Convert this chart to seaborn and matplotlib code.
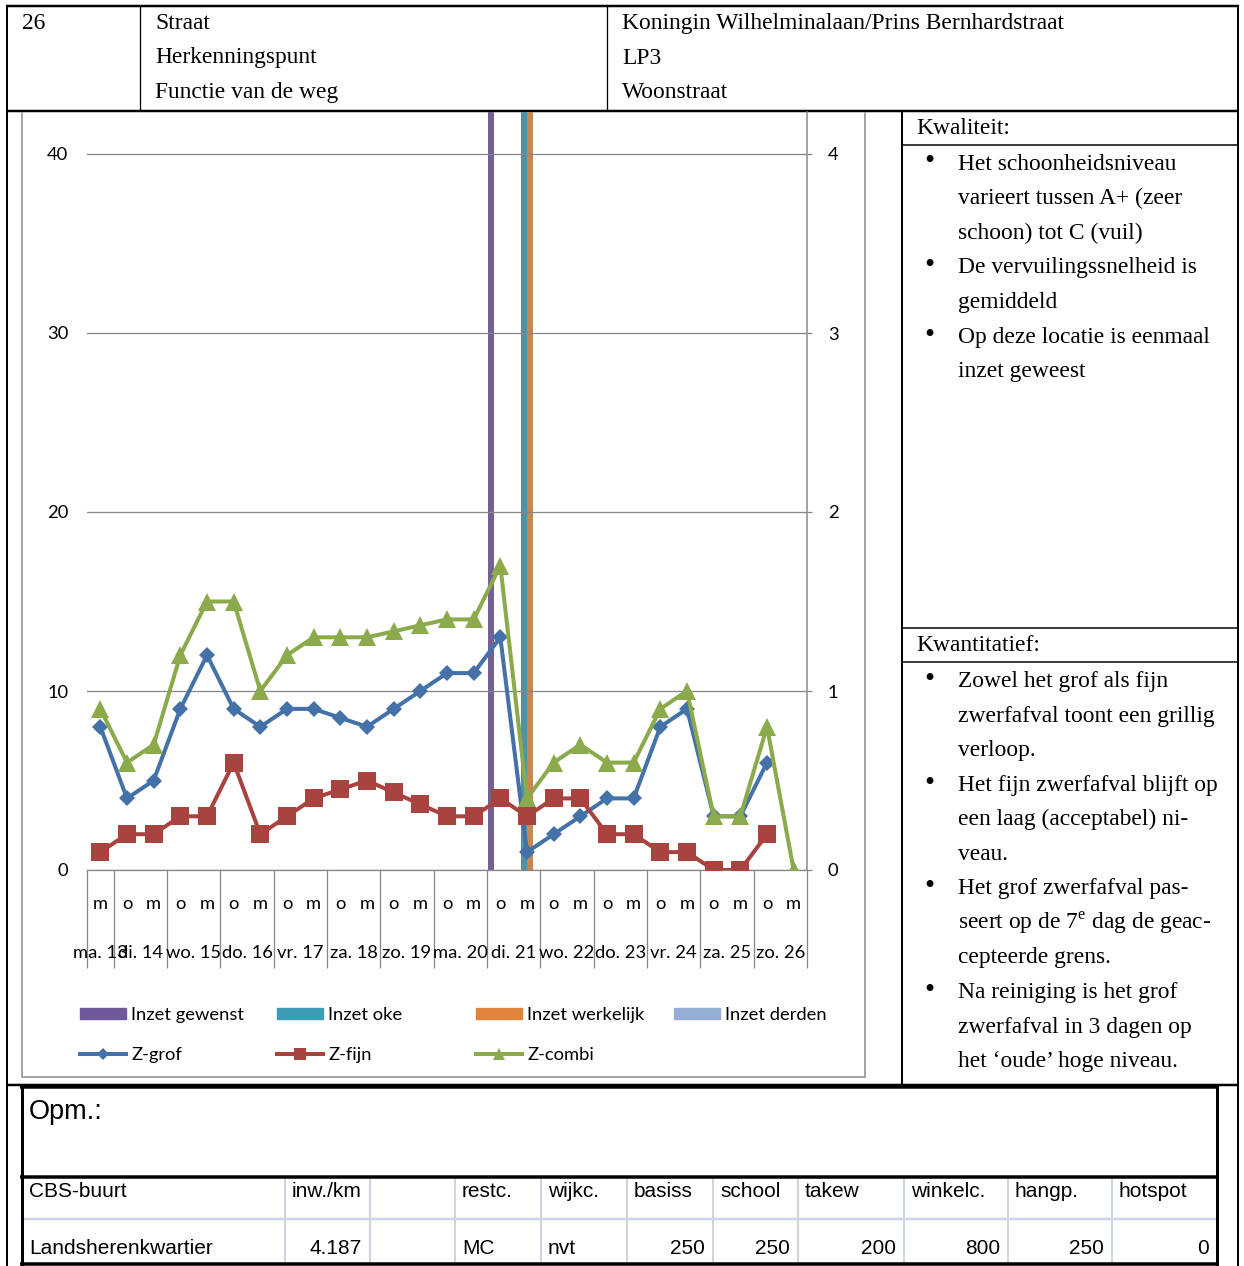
import numpy as np
import pandas as pd
import seaborn as sns
import matplotlib
matplotlib.use("Agg")
import matplotlib.pyplot as plt
from matplotlib.lines import Line2D
from matplotlib.patches import Patch

# ---------------------------------------------------------------- data
day_labels = ["ma. 13", "di. 14", "wo. 15", "do. 16", "vr. 17", "za. 18", "zo. 19",
              "ma. 20", "di. 21", "wo. 22", "do. 23", "vr. 24", "za. 25", "zo. 26"]
part_labels = ["m",
               "o", "m", "o", "m", "o", "m", "o", "m", "o", "m", "o", "m", "o", "m",
               "o", "m", "o", "m", "o", "m", "o", "m", "o", "m", "o", "m"]

z_grof = [8, 4, 5, 9, 12, 9, 8, 9, 9, 8.5, 8, 9, 10, 11, 11, 13,
          1, 2, 3, 4, 4, 8, 9, 3, 3, 6, np.nan]
z_fijn = [1, 2, 2, 3, 3, 6, 2, 3, 4, 4.5, 5, 4.33, 3.67, 3, 3, 4,
          3, 4, 4, 2, 2, 1, 1, 0, 0, 2, np.nan]
z_combi = [9, 6, 7, 12, 15, 15, 10, 12, 13, 13, 13, 13.33, 13.67, 14, 14, 17,
           4, 6, 7, 6, 6, 9, 10, 3, 3, 8, 0]

inzet_gewenst = [0, 0, 0, 0, 0, 0, 0, 0, 0, 0, 0, 0, 0, 0, 0, 5,
                 0, 0, 0, 0, 0, 0, 0, 0, 0, 0, 0]
inzet_oke = [0, 0, 0, 0, 0, 0, 0, 0, 0, 0, 0, 0, 0, 0, 0, 0,
             5, 0, 0, 0, 0, 0, 0, 0, 0, 0, 0]
inzet_werkelijk = [0, 0, 0, 0, 0, 0, 0, 0, 0, 0, 0, 0, 0, 0, 0, 0,
                   5, 0, 0, 0, 0, 0, 0, 0, 0, 0, 0]
inzet_derden = [0, 0, 0, 0, 0, 0, 0, 0, 0, 0, 0, 0, 0, 0, 0, 0,
                0, 0, 0, 0, 0, 0, 0, 0, 0, 0, 0]

left_ticks = [0, 10, 20, 30, 40]
right_ticks = [0, 1, 2, 3, 4]

header_left = ["Straat", "Herkenningspunt", "Functie van de weg"]
header_right = ["Koningin Wilhelminalaan/Prins Bernhardstraat", "LP3", "Woonstraat"]
sheet_number = "26"

kwaliteit_lines = [("•", "Het schoonheidsniveau"), ("", "varieert tussen A+ (zeer"),
                   ("", "schoon) tot C (vuil)"),
                   ("•", "De vervuilingssnelheid is"), ("", "gemiddeld"),
                   ("•", "Op deze locatie is eenmaal"), ("", "inzet geweest")]
kwantitatief_lines = [("•", "Zowel het grof als fijn"), ("", "zwerfafval toont een grillig"),
                      ("", "verloop."),
                      ("•", "Het fijn zwerfafval blijft op"), ("", "een laag (acceptabel) ni-"),
                      ("", "veau."),
                      ("•", "Het grof zwerfafval pas-"),
                      ("", r"seert op de 7$^\mathregular{e}$ dag de geac-"),
                      ("", "cepteerde grens."),
                      ("•", "Na reiniging is het grof"), ("", "zwerfafval in 3 dagen op"),
                      ("", "het \u2018oude\u2019 hoge niveau.")]

table_header = ["CBS-buurt", "inw./km", "", "restc.", "wijkc.", "basiss", "school",
                "takew", "winkelc.", "hangp.", "hotspot"]
table_values = ["Landsherenkwartier", "4.187", "", "MC", "nvt", "250", "250",
                "200", "800", "250", "0"]
table_align = ["left", "right", "left", "left", "left", "right", "right",
               "right", "right", "right", "right"]

# ---------------------------------------------------------------- styling
W, H, DPI = 1244, 1266, 100
PT = 72.0 / DPI                  # points per pixel
GREY = "#878787"
C_GROF, C_FIJN, C_COMBI = "#4472A8", "#A8433F", "#8BAA4B"
C_GEWENST, C_OKE, C_WERK, C_DERDEN = "#70599A", "#3E9BB5", "#E0843B", "#95AED6"
CHART_FONT = "Lato"
SERIF = "Liberation Serif"
SANS = "Liberation Sans"

fig = plt.figure(figsize=(W / DPI, H / DPI), dpi=DPI)
fig.patch.set_facecolor("white")

# page layer in pixel coordinates
doc = fig.add_axes([0, 0, 1, 1], zorder=0)
doc.set_xlim(0, W)
doc.set_ylim(H, 0)
doc.axis("off")


def hline(y, x0, x1, w=1.0, c="black"):
    doc.plot([x0, x1], [y, y], color=c, lw=w * PT, solid_capstyle="butt")


def vline(x, y0, y1, w=1.0, c="black"):
    doc.plot([x, x], [y0, y1], color=c, lw=w * PT, solid_capstyle="butt")


# outer form
hline(6, 6, 1239, 2.5)
hline(111, 6, 1239, 2.5)
hline(1085, 6, 1239, 2.5)
vline(7, 5, 1266, 2)
vline(1238, 5, 1266, 2)
vline(140, 6, 111, 1.3)
vline(607, 6, 111, 1.3)
vline(902, 111, 1085, 2)
hline(145, 902, 1238, 1.5)
hline(628, 902, 1238, 1.5)
hline(662, 902, 1238, 1.5)

# chart frame (cut by the cell border)
frame_c = "#A5A5A5"
vline(22, 112, 1077, 2, frame_c)
vline(865, 112, 1077, 2, frame_c)
hline(1077, 21, 866, 2, frame_c)

# header texts
hdr_fs = 16.9
doc.text(22, 29, sheet_number, fontsize=hdr_fs, family=SERIF, va="baseline")
for i, (a, b) in enumerate(zip(header_left, header_right)):
    yb = 29 + i * 34.5
    doc.text(155, yb, a, fontsize=hdr_fs, family=SERIF, va="baseline")
    doc.text(622, yb, b, fontsize=hdr_fs, family=SERIF, va="baseline")


def panel_line(yb, bul, txt):
    if bul:
        doc.text(924, yb, bul, fontsize=21, family=SERIF, va="baseline")
    doc.text(958, yb, txt, fontsize=hdr_fs, family=SERIF, va="baseline")


# side panel texts
doc.text(916, 134, "Kwaliteit:", fontsize=hdr_fs, family=SERIF, va="baseline")
for i, (bul, txt) in enumerate(kwaliteit_lines):
    panel_line(169.5 + i * 34.6, bul, txt)

doc.text(916, 651, "Kwantitatief:", fontsize=hdr_fs, family=SERIF, va="baseline")
for i, (bul, txt) in enumerate(kwantitatief_lines):
    panel_line(687 + i * 34.55, bul, txt)

# remarks / neighbourhood table
col_edges = [22, 285, 370, 455, 541, 627, 713, 798, 904, 1008, 1112, 1217]
light = "#CDD5E4"
for x in col_edges[1:-1]:
    vline(x, 1178, 1264, 2, light)
hline(1219, 23, 1216, 2.5, light)
hline(1087, 20, 1219, 3.5)
hline(1177, 20, 1219, 3.5)
hline(1264, 20, 1219, 3.5)
vline(22, 1086, 1266, 3)
vline(1217, 1086, 1266, 3)
doc.text(29, 1119, "Opm.:", fontsize=19.5, family=SANS, va="baseline")
tab_fs = 15
for j in range(len(table_header)):
    x0, x1 = col_edges[j], col_edges[j + 1]
    doc.text(x0 + 7, 1197, table_header[j], fontsize=tab_fs, family=SANS, va="baseline")
    if table_align[j] == "right":
        doc.text(x1 - 8, 1254, table_values[j], fontsize=tab_fs, family=SANS,
                 va="baseline", ha="right")
    else:
        doc.text(x0 + 7, 1254, table_values[j], fontsize=tab_fs, family=SANS,
                 va="baseline")

# ---------------------------------------------------------------- chart
px_left, px_right, px_zero, px_top = 87, 807, 870, 112
units_per_px = 10 / 179.0
y_top = (px_zero - px_top) * units_per_px
ax = fig.add_axes([px_left / W, 1 - px_zero / H, (px_right - px_left) / W,
                   (px_zero - px_top) / H], zorder=2)
ax2 = ax.twinx()

n = len(part_labels)
idx = list(range(n))

bars = pd.DataFrame({
    "idx": idx * 4,
    "value": inzet_gewenst + inzet_oke + inzet_werkelijk + inzet_derden,
    "series": (["Inzet gewenst"] * n + ["Inzet oke"] * n +
               ["Inzet werkelijk"] * n + ["Inzet derden"] * n),
})
bar_order = ["Inzet gewenst", "Inzet oke", "Inzet werkelijk", "Inzet derden"]
bar_colors = [C_GEWENST, C_OKE, C_WERK, C_DERDEN]
sns.barplot(data=bars, x="idx", y="value", hue="series", order=idx,
            hue_order=bar_order, palette=bar_colors, width=0.95, gap=0,
            linewidth=0, errorbar=None, legend=False, ax=ax2)

series = [("Z-grof", z_grof, C_GROF, "D", 8.3),
          ("Z-fijn", z_fijn, C_FIJN, "s", 12.5),
          ("Z-combi", z_combi, C_COMBI, "^", 13.5)]
for name, vals, col, mk, ms in series:
    d = pd.DataFrame({"idx": idx, "value": vals}).dropna()
    sns.lineplot(data=d, x="idx", y="value", color=col, marker=mk, markersize=ms,
                 markeredgewidth=0, linewidth=2.9, ax=ax, legend=False, zorder=5)

# layering: lines above the secondary-axis columns
ax.set_zorder(ax2.get_zorder() + 1)
ax.patch.set_visible(False)

ax.set_xlim(-0.5, n - 0.5)
ax.set_ylim(0, y_top)
ax2.set_ylim(0, y_top / 10)
ax.set_yticks(left_ticks)
ax2.set_yticks(right_ticks)
ax.set_xlabel("")
ax.set_ylabel("")
ax2.set_xlabel("")
ax2.set_ylabel("")

ax.grid(axis="y", color=GREY, lw=1.3 * PT)
ax.grid(axis="x", visible=False)
ax.set_axisbelow(True)
for s in ["left", "top"]:
    ax.spines[s].set_visible(False)
for s in ["left", "top", "bottom", "right"]:
    ax2.spines[s].set_visible(False)
ax.spines["bottom"].set_color(GREY)
ax.spines["bottom"].set_linewidth(1.3 * PT)
ax.spines["right"].set_color(GREY)
ax.spines["right"].set_linewidth(1.5 * PT)

lab_fs = 13.2
ax.tick_params(axis="y", length=0, pad=13.5, labelsize=lab_fs, labelfontfamily=CHART_FONT)
ax2.tick_params(axis="y", direction="out", length=5 * PT, width=1.3 * PT, color=GREY,
                pad=11.5, labelsize=lab_fs, labelfontfamily=CHART_FONT)

# two-level category axis: separators between days
boundaries = [-0.5, 0.5] + [0.5 + 2 * k for k in range(1, 14)]
ax.set_xticks(boundaries)
ax.set_xticklabels([])
ax.tick_params(axis="x", direction="out", length=98 * PT, width=1.3 * PT, color=GREY)

xt = ax.get_xaxis_transform()
axes_h = px_zero - px_top
for i, lab in enumerate(part_labels):
    ax.text(i, -(909 - px_zero) / axes_h, lab, transform=xt, ha="center",
            va="baseline", fontsize=lab_fs, family=CHART_FONT, clip_on=False)
day_pos = [0] + [2 * k - 0.5 for k in range(1, 14)]
for xpos, lab in zip(day_pos, day_labels):
    ax.text(xpos, -(958 - px_zero) / axes_h, lab, transform=xt, ha="center",
            va="baseline", fontsize=lab_fs, family=CHART_FONT, clip_on=False)

# legend, four columns
h_gew = Patch(color=C_GEWENST, label="Inzet gewenst")
h_oke = Patch(color=C_OKE, label="Inzet oke")
h_wer = Patch(color=C_WERK, label="Inzet werkelijk")
h_der = Patch(color=C_DERDEN, label="Inzet derden")
h_grof = Line2D([], [], color=C_GROF, lw=2.9, marker="D", ms=6, mew=0, label="Z-grof")
h_fijn = Line2D([], [], color=C_FIJN, lw=2.9, marker="s", ms=8, mew=0, label="Z-fijn")
h_comb = Line2D([], [], color=C_COMBI, lw=2.9, marker="^", ms=9, mew=0, label="Z-combi")
legend_cols = [([h_gew, h_grof], 80), ([h_oke, h_fijn], 277),
               ([h_wer, h_comb], 476), ([h_der], 674)]
for handles, xpx in legend_cols:
    leg = fig.legend(handles=handles, loc="upper left",
                     bbox_to_anchor=(xpx / W, 1 - 1007 / H), frameon=False,
                     borderpad=0, borderaxespad=0, handlelength=46 / 18.3,
                     handleheight=0.55, handletextpad=0.28, labelspacing=1.33,
                     prop={"family": CHART_FONT, "size": lab_fs})

fig.savefig("out.png", dpi=DPI, facecolor="white")
